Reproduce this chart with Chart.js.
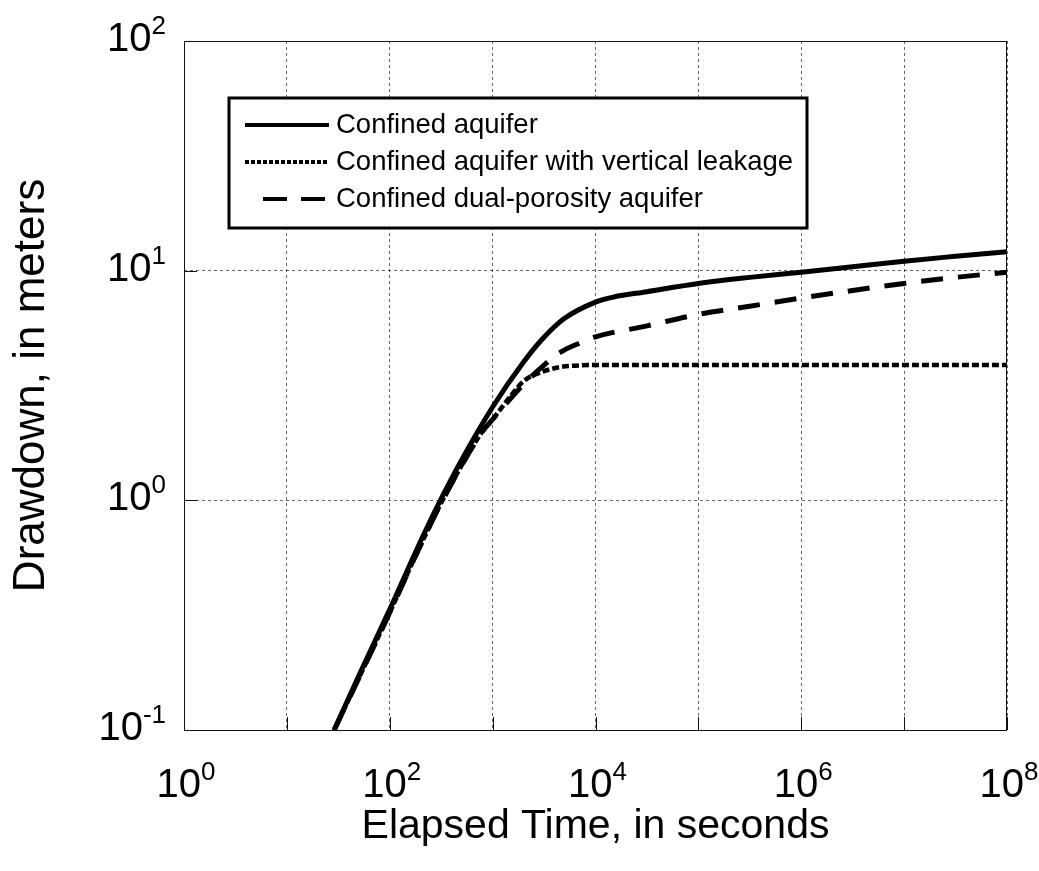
<!DOCTYPE html>
<html>
<head>
<meta charset="utf-8">
<script src="https://cdn.jsdelivr.net/npm/chart.js@4.4.1/dist/chart.umd.min.js"></script>
<style>
  html, body { margin: 0; padding: 0; background: #fff; }
  #wrap { width: 1039px; height: 871px; }
</style>
</head>
<body>
<div id="wrap"><canvas id="myChart" width="1039" height="871"></canvas></div>
<script>
const seriesNames = ['Confined aquifer', 'Confined aquifer with vertical leakage', 'Confined dual-porosity aquifer'];

// elapsed time (s) and drawdown (m)
const confinedTime = [28.8, 50, 100, 200, 300, 500, 1000, 2000, 3000, 5000, 10000, 15000, 31600, 100000, 316000, 1e6, 3.16e6, 1e7, 3.16e7, 1e8];
const confinedDrawdown = [0.1, 0.172, 0.335, 0.665, 0.97, 1.5, 2.55, 4.0, 5.0, 6.2, 7.3, 7.68, 8.1, 8.8, 9.35, 9.85, 10.4, 11.0, 11.55, 12.1];

const leakyTime = [28.8, 50, 100, 200, 300, 500, 800, 1000, 1500, 2000, 3000, 4500, 7000, 10000, 1e5, 1e6, 1e7, 1e8];
const leakyDrawdown = [0.1, 0.168, 0.325, 0.64, 0.93, 1.42, 2.0, 2.25, 2.85, 3.3, 3.62, 3.8, 3.87, 3.88, 3.88, 3.88, 3.88, 3.88];

const dualTime = [28.8, 50, 100, 200, 300, 500, 800, 1000, 1500, 2000, 3000, 4500, 7000, 10000, 31600, 100000, 316000, 1e6, 3.16e6, 1e7, 3.16e7, 1e8];
const dualDrawdown = [0.1, 0.168, 0.325, 0.64, 0.93, 1.42, 2.0, 2.25, 2.78, 3.2, 3.8, 4.4, 4.84, 5.15, 5.75, 6.45, 7.0, 7.6, 8.2, 8.8, 9.35, 9.85];

// decade ticks; labels are "10" with these exponents
const xTicks = [1, 10, 100, 1e3, 1e4, 1e5, 1e6, 1e7, 1e8];
const xTickExp = ['0', '', '2', '', '4', '', '6', '', '8'];
const yTicks = [0.1, 1, 10, 100];
const yTickExp = ['-1', '0', '1', '2'];

const FONT = '"Liberation Sans", Arial, sans-serif';

function pairs(xs, ys) {
  return xs.map((x, i) => ({ x: x, y: ys[i] }));
}

function powerLabel(ctx, exp, x, baseline, align) {
  ctx.font = '40px ' + FONT;
  const wBase = ctx.measureText('10').width;
  ctx.font = '26px ' + FONT;
  const wExp = ctx.measureText(exp).width;
  const total = wBase + wExp;
  let left = x;
  if (align === 'center') left = x - total / 2;
  if (align === 'right') left = x - total;
  ctx.textAlign = 'left';
  ctx.textBaseline = 'alphabetic';
  ctx.font = '40px ' + FONT;
  ctx.fillText('10', left, baseline);
  ctx.font = '26px ' + FONT;
  ctx.fillText(exp, left + wBase, baseline - 17);
}

// frame, inner tick marks, power-of-ten labels and boxed legend
const boxLegend = {
  id: 'boxLegend',
  afterDraw(chart) {
    const ctx = chart.ctx;
    const area = chart.chartArea;
    const xs = chart.scales.x, ys = chart.scales.y;
    ctx.save();
    ctx.strokeStyle = '#111';
    ctx.lineWidth = 1;
    ctx.setLineDash([]);
    ctx.strokeRect(area.left + 0.5, area.top + 0.5, area.right - area.left - 1, area.bottom - area.top);
    ctx.beginPath();
    xTicks.forEach(v => {
      const px = Math.round(xs.getPixelForValue(v)) + 0.5;
      ctx.moveTo(px, area.bottom);
      ctx.lineTo(px, area.bottom - 13);
    });
    yTicks.forEach(v => {
      const py = Math.round(ys.getPixelForValue(v)) + 0.5;
      ctx.moveTo(area.left, py);
      ctx.lineTo(area.left + 13, py);
    });
    ctx.stroke();

    ctx.fillStyle = '#000';
    xTicks.forEach((v, i) => {
      if (!xTickExp[i]) return;
      powerLabel(ctx, xTickExp[i], xs.getPixelForValue(v) + 2, area.bottom + 67, 'center');
    });
    yTicks.forEach((v, i) => {
      powerLabel(ctx, yTickExp[i], area.left - 18, ys.getPixelForValue(v) + 10, 'right');
    });

    // legend
    const x0 = area.left + 45, y0 = area.top + 57, w = 578, h = 130;
    ctx.fillStyle = '#fff';
    ctx.fillRect(x0, y0, w, h);
    ctx.lineWidth = 3;
    ctx.strokeStyle = '#000';
    ctx.strokeRect(x0, y0, w, h);
    ctx.font = '27.5px ' + FONT;
    ctx.textBaseline = 'middle';
    ctx.textAlign = 'left';
    ctx.fillStyle = '#000';
    chart.data.datasets.forEach((ds, i) => {
      const y = y0 + 27 + i * 37;
      ctx.beginPath();
      ctx.lineWidth = 4;
      ctx.setLineDash(ds.legendDash);
      ctx.moveTo(x0 + ds.legendStart, y);
      ctx.lineTo(x0 + 100, y);
      ctx.stroke();
      ctx.setLineDash([]);
      ctx.fillText(ds.label, x0 + 107, y);
    });
    ctx.restore();
  }
};

const ctx = document.getElementById('myChart').getContext('2d');
const myChart = new Chart(ctx, {
  type: 'line',
  data: {
    datasets: [
      {
        label: seriesNames[0],
        data: pairs(confinedTime, confinedDrawdown),
        borderColor: '#000',
        borderWidth: 5,
        borderDash: [],
        legendDash: [],
        legendStart: 16
      },
      {
        label: seriesNames[1],
        data: pairs(leakyTime, leakyDrawdown),
        borderColor: '#000',
        borderWidth: 4.5,
        borderDash: [7, 3],
        legendDash: [4, 2],
        legendStart: 16
      },
      {
        label: seriesNames[2],
        data: pairs(dualTime, dualDrawdown),
        borderColor: '#000',
        borderWidth: 5,
        borderDash: [22, 15],
        legendDash: [24, 14],
        legendStart: 34
      }
    ]
  },
  options: {
    responsive: false,
    animation: false,
    devicePixelRatio: 1,
    layout: { padding: { top: 41, right: 32, left: 0, bottom: 0 } },
    elements: {
      point: { radius: 0 },
      line: { cubicInterpolationMode: 'monotone', fill: false }
    },
    plugins: {
      legend: { display: false },
      tooltip: { enabled: false }
    },
    scales: {
      x: {
        type: 'logarithmic',
        min: 1,
        max: 1e8,
        afterBuildTicks: (scale) => { scale.ticks = xTicks.map(v => ({ value: v })); },
        afterFit: (scale) => { scale.height = 141; },
        ticks: { display: false },
        grid: { color: 'rgba(0,0,0,0.6)', lineWidth: 1, drawTicks: false },
        border: { display: false, dash: [3, 3] },
        title: {
          display: true,
          text: 'Elapsed Time, in seconds',
          color: '#000',
          font: { family: FONT, size: 41 },
          padding: { top: 0, bottom: 20 }
        }
      },
      y: {
        type: 'logarithmic',
        min: 0.1,
        max: 100,
        afterBuildTicks: (scale) => { scale.ticks = yTicks.map(v => ({ value: v })); },
        afterFit: (scale) => { scale.width = 184; },
        ticks: { display: false },
        grid: { color: 'rgba(0,0,0,0.6)', lineWidth: 1, drawTicks: false },
        border: { display: false, dash: [3, 3] },
        title: {
          display: true,
          text: 'Drawdown, in meters',
          color: '#000',
          font: { family: FONT, size: 44 },
          padding: { top: 5, bottom: 0 }
        }
      }
    }
  },
  plugins: [boxLegend]
});
</script>
</body>
</html>
